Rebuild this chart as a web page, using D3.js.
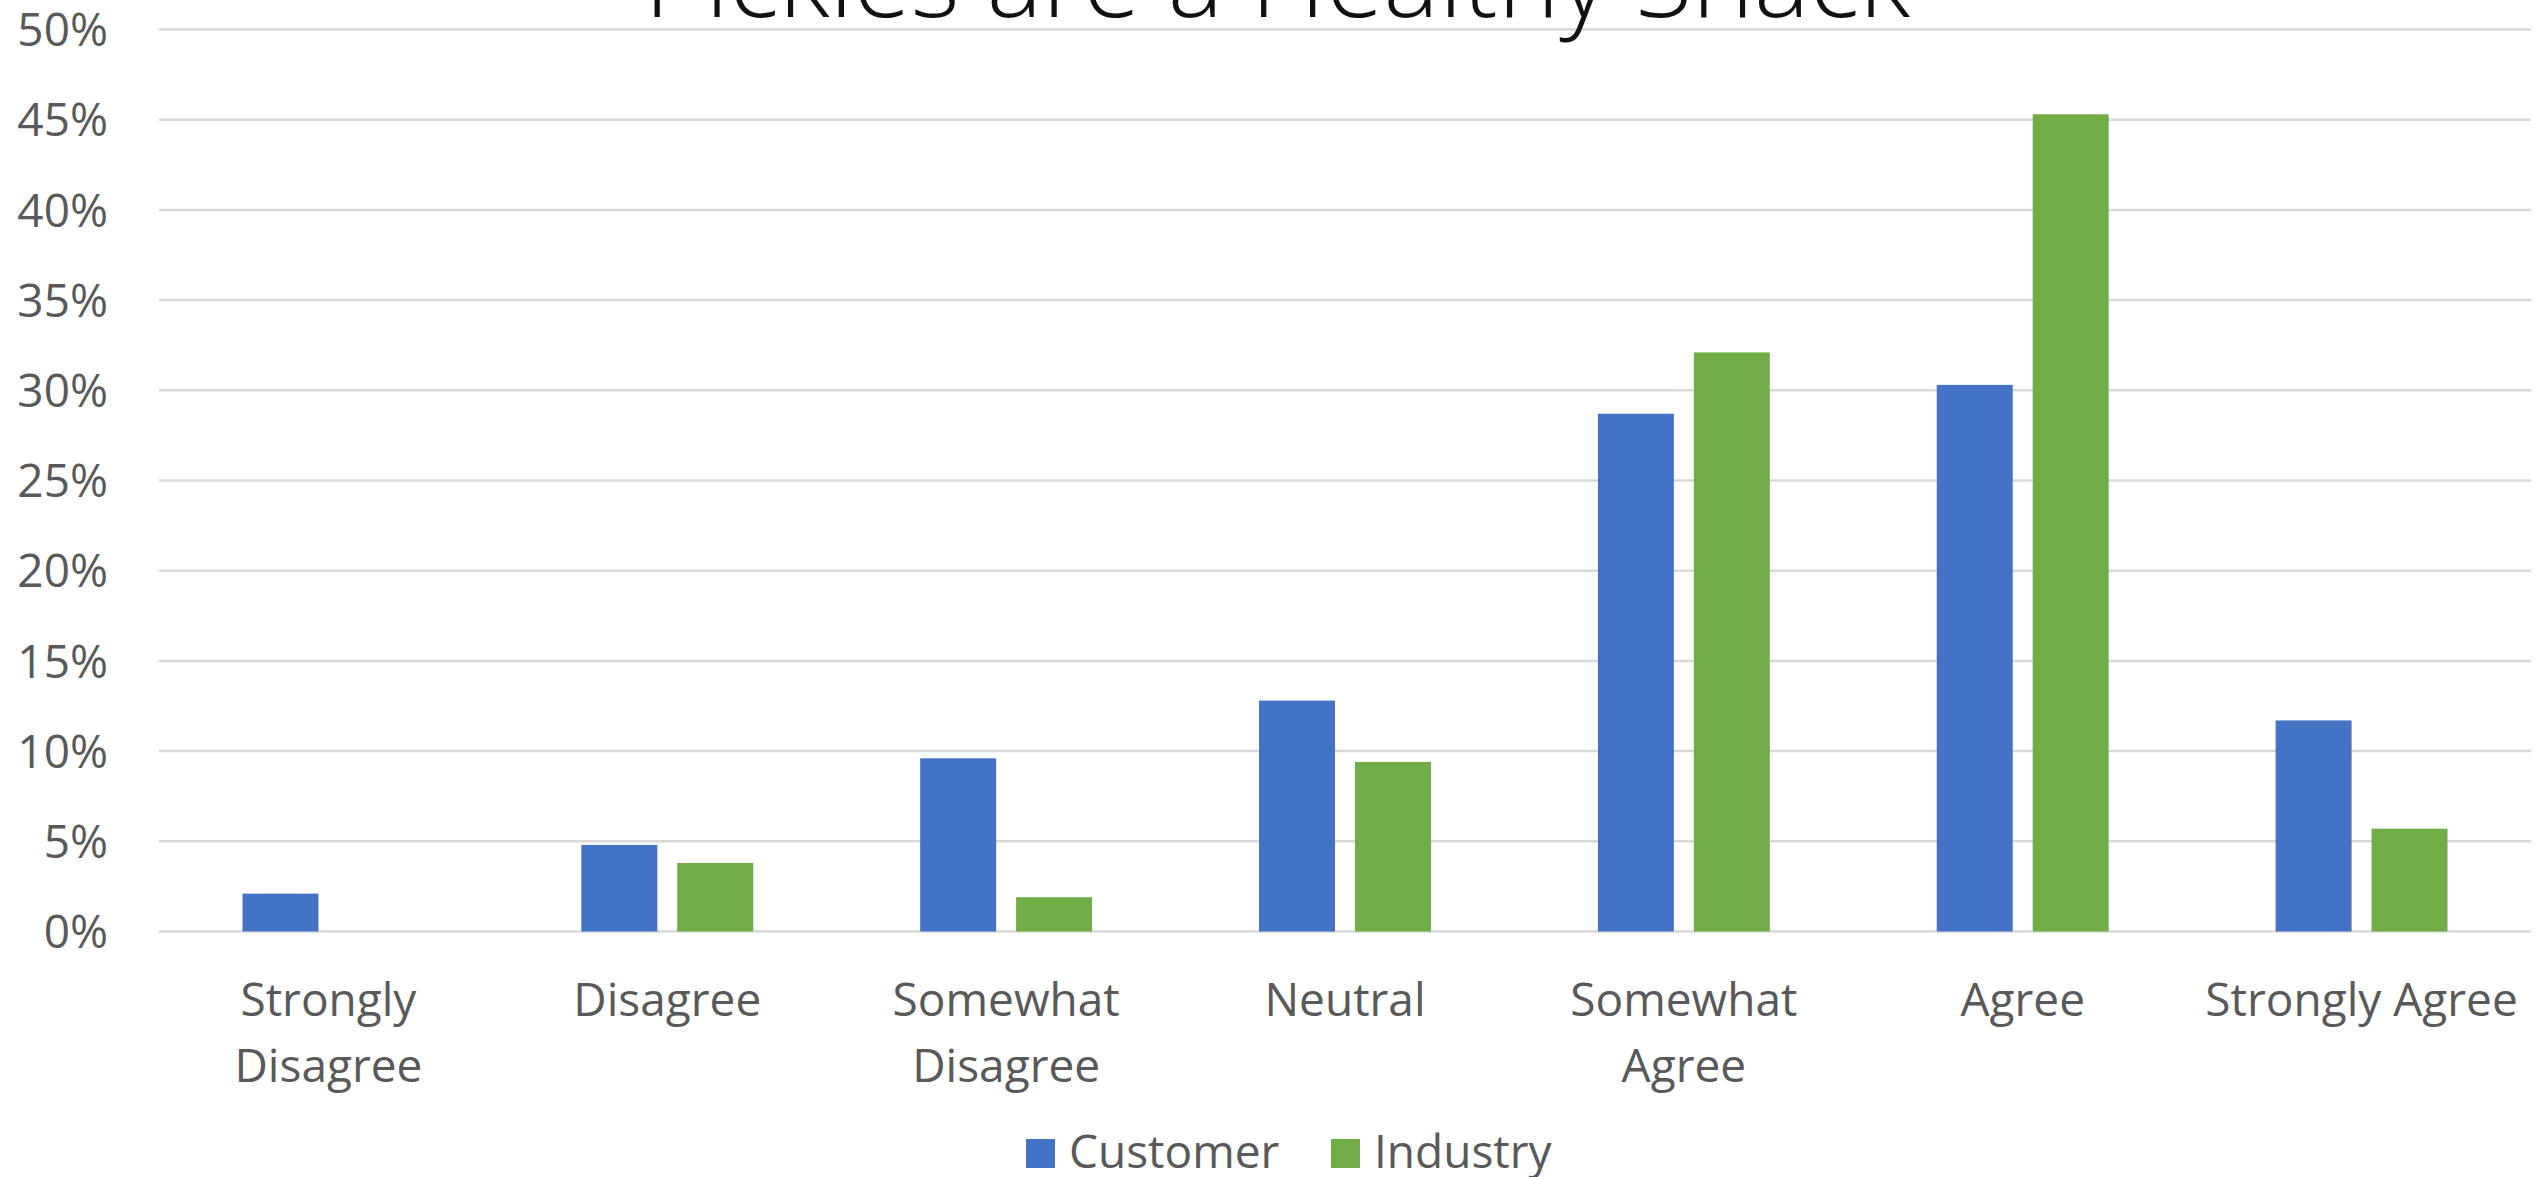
<!DOCTYPE html>
<html>
<head>
<meta charset="utf-8">
<script src="https://cdn.jsdelivr.net/npm/d3@7"></script>
<style>
  html, body { margin: 0; padding: 0; background: #ffffff; overflow: hidden; }
  svg { display: block; }
</style>
</head>
<body>
<svg id="chart" width="2539" height="1177"></svg>
<script>
const titleText = "Pickles are a Healthy Snack";
const categories = ["Strongly Disagree", "Disagree", "Somewhat Disagree", "Neutral", "Somewhat Agree", "Agree", "Strongly Agree"];
const categoryLines = [["Strongly", "Disagree"], ["Disagree"], ["Somewhat", "Disagree"], ["Neutral"], ["Somewhat", "Agree"], ["Agree"], ["Strongly Agree"]];
const seriesNames = ["Customer", "Industry"];
const customerValues = [2.1, 4.8, 9.6, 12.8, 28.7, 30.3, 11.7];
const industryValues = [0, 3.8, 1.9, 9.4, 32.1, 45.3, 5.7];
const yTicks = [0, 5, 10, 15, 20, 25, 30, 35, 40, 45, 50];
const seriesColors = ["#4472C4", "#70AD47"];

const svg = d3.select("#chart");
const W = 2539, H = 1177;
const plot = { left: 159, right: 2531, top: 29.5, bottom: 931.5 };
const fontFamily = "'Open Sans', 'Noto Sans', sans-serif";
const textColor = "#595959";

const x0 = d3.scaleBand().domain(categories).range([plot.left, plot.right]).paddingInner(0).paddingOuter(0);
const x1 = d3.scaleBand().domain(seriesNames).range([0, x0.bandwidth()]).paddingInner(0.208).paddingOuter(0.87);
const y = d3.scaleLinear().domain([0, 50]).range([plot.bottom, plot.top]);
const color = d3.scaleOrdinal().domain(seriesNames).range(seriesColors);

const rows = categories.map((c, i) => ({ category: c, values: [
  { series: seriesNames[0], value: customerValues[i] },
  { series: seriesNames[1], value: industryValues[i] }
]}));

// gridlines
svg.append("g").selectAll("line").data(yTicks).join("line")
  .attr("x1", plot.left).attr("x2", plot.right)
  .attr("y1", d => y(d)).attr("y2", d => y(d))
  .attr("stroke", "#D9D9D9").attr("stroke-width", 2.5);

// y axis labels
const yAxis = d3.axisLeft(y).tickValues(yTicks).tickSize(0).tickPadding(51).tickFormat(d => d + "%");
const gy = svg.append("g").attr("transform", `translate(${plot.left},0)`).call(yAxis);
gy.select(".domain").remove();
gy.selectAll("text").attr("font-family", fontFamily).attr("font-size", 46).attr("fill", textColor).attr("dy", "0.35em");

// bars
svg.append("g").selectAll("g").data(rows).join("g")
  .attr("transform", d => `translate(${x0(d.category)},0)`)
  .selectAll("rect").data(d => d.values).join("rect")
  .attr("x", d => x1(d.series))
  .attr("width", x1.bandwidth())
  .attr("y", d => y(d.value))
  .attr("height", d => y(0) - y(d.value))
  .attr("fill", d => color(d.series));

// x axis labels
const xAxis = d3.axisBottom(x0).tickSize(0).tickFormat("");
const gx = svg.append("g").attr("transform", `translate(0,${plot.bottom})`).call(xAxis);
gx.select(".domain").remove();
gx.selectAll(".tick").each(function(d, i) {
  const t = d3.select(this).append("text")
    .attr("text-anchor", "middle")
    .attr("font-family", fontFamily).attr("font-size", 46).attr("fill", textColor);
  categoryLines[i].forEach((line, j) => {
    t.append("tspan").attr("x", 0).attr("y", 84.5 + j * 66).text(line);
  });
});

// title
svg.append("text")
  .attr("x", 1277).attr("y", 17)
  .attr("text-anchor", "middle")
  .attr("font-family", fontFamily).attr("font-weight", 300)
  .attr("font-size", 105).attr("fill", "#111111")
  .attr("textLength", 1266).attr("lengthAdjust", "spacingAndGlyphs")
  .text(titleText);

// legend
const legendX = [1026, 1331];
const legend = svg.append("g").selectAll("g").data(seriesNames).join("g")
  .attr("transform", (d, i) => `translate(${legendX[i]},1139)`);
legend.append("rect").attr("width", 29).attr("height", 29).attr("fill", d => color(d));
legend.append("text").attr("x", 43).attr("y", 29)
  .attr("font-family", fontFamily).attr("font-size", 46).attr("fill", textColor)
  .text(d => d);
</script>
</body>
</html>
